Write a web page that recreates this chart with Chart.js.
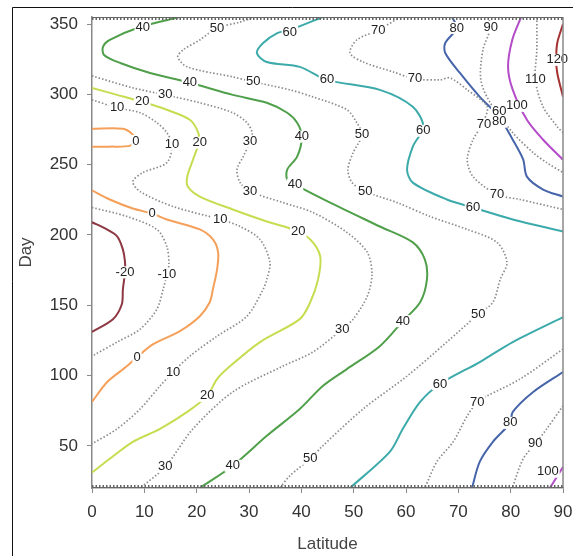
<!DOCTYPE html>
<html>
<head>
	<meta charset="utf-8">
	<title>Day / Latitude contours</title>
	<style>
		body { margin: 0; background: #fff; }
		canvas { display: block; }
	</style>
</head>
<body>
	<canvas id="myChart" width="573" height="556"></canvas>
	<script type="text/javascript" src="https://cdn.jsdelivr.net/npm/chart.js@4.4.0/dist/chart.umd.min.js"></script>
	<script type="text/javascript">
		// axis ticks
		let latTicks = [0, 10, 20, 30, 40, 50, 60, 70, 80, 90];
		let dayTicks = [50, 100, 150, 200, 250, 300, 350];

		// contour lines, each point is [latitude, day]
		let lineM20 = [[0, 209], [2.5, 204.6], [4.8, 199], [5.9, 189.7], [6.3, 181], [6.3, 173.4], [5.9, 161.3], [5.7, 150.7], [4.0, 140], [0, 131]];
		let lineM10 = [[0, 219.5], [6.7, 213.1], [12.4, 203.9], [14.3, 191.8], [14.7, 179], [14.3, 172], [13.6, 161.3], [12.4, 147.2], [9.2, 133], [4.8, 123.8], [0, 113.8]];
		let line0 = [[0, 231.6], [3.4, 225.2], [7.8, 218.8], [11.5, 215.2], [14.3, 211], [20.6, 203.9], [23.1, 196.8], [24.1, 187.6], [23.9, 175.5], [23.1, 161.3], [22.5, 152.1], [20.6, 142.2], [16.8, 131.6], [11.7, 122.3], [8.6, 113.1], [6.7, 106.7], [2.9, 95.4], [0, 81.2]];
		let line0Loop = [[0, 275.5], [5.9, 275.5], [7.6, 272], [8.2, 267.7], [7.3, 263.5], [3.4, 262.8], [0, 262.8]];
		let line10 = [[0, 296.1], [4.8, 290.4], [9.2, 286.9], [12.4, 279.8], [14.3, 272.7], [15.3, 264.2], [14.3, 251.4], [9.7, 244.3], [7.8, 237.9], [9.2, 230.8], [15.5, 220.2], [24.5, 211], [28.3, 206], [32.1, 196.8], [34, 180.5], [33.4, 168.4], [32.7, 161.3], [29.6, 142.2], [23.9, 128], [18.7, 113.8], [15.5, 102.5], [13, 92.6], [9.2, 76.2], [4.8, 62.1], [0, 51.4]];
		let line20 = [[0, 304.6], [4.8, 299.6], [9.6, 294.7], [14.3, 289], [18.7, 281.9], [20.3, 272.7], [20.4, 265.6], [19.3, 253.5], [18.2, 241.5], [18.3, 234.4], [20.6, 227.3], [26.9, 218.1], [33.4, 209.6], [38.4, 203.9], [41.7, 196.8], [43.6, 184.8], [43.2, 168.4], [41.7, 152.1], [39.7, 140.1], [32.1, 123.8], [26.4, 106.7], [23.9, 97.5], [22, 85.5], [18.2, 74.1], [13, 62.1], [7.8, 52.8], [3.4, 40.8], [0, 31]];
		let line30 = [[0, 313.1], [7.8, 304.6], [14, 299.6], [20.6, 294], [26.9, 286.9], [29.6, 279.8], [30.6, 272.7], [30.2, 266.3], [28.9, 255.7], [27.7, 246.5], [28.3, 237.2], [30.2, 230.9], [36.5, 223], [42.2, 216], [48.7, 201.8], [52.6, 187.6], [53.5, 172], [52.6, 156.4], [49.9, 140.1], [47.8, 133], [42.2, 116.7], [36.5, 106.7], [26.9, 88.3], [19.3, 62.1], [14, 35.1], [9.2, 20]];
		let line40 = [[16.8, 355], [9.2, 347.9], [3.4, 338.7], [2.1, 333.7], [2.3, 328], [5.4, 322.3], [11.1, 315.2], [18.7, 308.2], [26.9, 299.6], [33.4, 294], [37.3, 286.9], [39.2, 279.8], [40.1, 269.9], [39.2, 255.7], [37.3, 246.5], [37.3, 239.4], [38.8, 235.8], [45.5, 223], [55, 206], [61.3, 194.7], [63.6, 182.6], [64, 168.4], [62.7, 152.1], [59.4, 138.7], [55, 120.9], [48.7, 104.6], [44.1, 92.6], [39.7, 76.2], [33.4, 57.1], [26.9, 35.8], [20.6, 20]];
		let line50 = [[31.1, 355], [28.3, 351.4], [23.9, 347.2], [20.6, 338.7], [17.4, 331.6], [16.4, 326.6], [18.2, 319.5], [26.9, 312.4], [30.8, 308.9], [37.8, 303.2], [42.2, 298.2], [48.7, 289], [50.6, 279.8], [51.6, 271.3], [49.9, 258.5], [48.9, 246.5], [49.7, 237.2], [52.2, 230.9], [58.3, 223], [64.6, 213.1], [71.7, 203.9], [77.4, 194.7], [79.3, 180.5], [78, 168.4], [76.6, 152.1], [73.8, 143.6], [67.8, 123.8], [60.2, 99.6], [51.8, 76.2], [44.1, 50], [41.7, 40.8], [37.8, 28.7], [35.9, 20]];
		let line60Top = [[44.1, 355], [37.8, 345.7], [35.4, 343.6], [32.7, 336.5], [31.5, 329.4], [33.4, 323], [39.7, 319.5], [44.9, 310.3], [55, 303.2], [61.3, 291.1], [63.3, 277], [61.3, 262.8], [60.2, 246.5], [61.3, 237.2], [67.8, 225.2], [72.8, 219.5], [80.4, 211], [90, 202.5]];
		let line60Bottom = [[90, 141.5], [80.4, 123.8], [74.1, 109.6], [66.5, 94], [62.7, 81.2], [59.4, 62.1], [56.9, 45.7], [49.3, 20]];
		let line70Top = [[58.9, 355], [54.7, 345.7], [50.6, 338.7], [49.3, 329.4], [51.8, 323], [57.5, 316], [61.7, 311], [66.5, 310.3], [68.4, 311.7], [71.7, 303.2], [75.5, 291.1], [74.5, 278.4], [72.8, 267.7], [71.7, 253.5], [72.8, 241.5], [77.4, 228.7], [81.8, 225.2], [90, 218.1]];
		let line70Bottom = [[90, 118.8], [81.8, 97.5], [75.5, 85.5], [73.6, 81.2], [71.7, 71.3], [69, 52.8], [65.9, 38.7], [63.6, 20]];
		let line80Top = [[68.8, 355], [69.7, 347.2], [67.5, 336.5], [67.5, 329.4], [70.3, 315.2], [74.1, 298.2], [77.8, 284], [80.4, 267.7], [82.4, 253.5], [83.1, 241.5], [86.2, 232.3], [90, 227.3]];
		let line80Bottom = [[90, 102.5], [84.3, 88.3], [80.4, 74.1], [79.9, 66.3], [76.6, 52.8], [74.1, 38.7], [72.6, 20]];
		let line90Top = [[75.7, 355], [76.2, 347.9], [74.7, 331.6], [74.3, 310.3], [76.1, 294], [80.4, 272.7], [84.3, 258.5], [86.9, 251.4], [90, 244.3]];
		let line90Bottom = [[90, 78.4], [86.9, 62.1], [84.7, 51.4], [82.4, 40.8], [80.3, 20]];
		let line100Top = [[82, 355], [80.3, 338.7], [79.5, 319.5], [80.4, 303.2], [83.1, 281.9], [86.2, 267.7], [90, 253.5]];
		let line100Bottom = [[87.5, 20], [90, 35]];
		let line110 = [[85, 355], [85, 331.6], [84.7, 310.3], [86.2, 291.1], [88.9, 277], [90, 272.7]];
		let line120 = [[90, 350], [88.9, 336.5], [88.7, 324.5], [88.9, 315.2], [90, 298.2]];

		// contour labels: [latitude, day, text]
		let contourLabels = [
			[9.7, 347.9, "40"], [23.9, 347.2, "50"], [37.8, 344.3, "60"], [54.7, 345.7, "70"], [69.7, 347.2, "80"], [76.2, 347.9, "90"],
			[88.9, 324.5, "120"], [84.7, 310.3, "110"], [18.7, 308.2, "40"], [30.8, 308.9, "50"], [44.9, 310.3, "60"], [61.7, 311, "70"],
			[14, 299.6, "30"], [9.6, 294.7, "20"], [4.8, 290.4, "10"], [81.2, 291.8, "100"], [77.8, 287.6, "60"], [77.8, 280.5, "80"],
			[74.9, 278.4, "70"], [8.4, 266.8, "0"], [15.3, 264.2, "10"], [20.6, 265.6, "20"], [30.2, 266.3, "30"], [40.1, 269.9, "40"],
			[51.6, 271.3, "50"], [63.3, 274.1, "60"], [30.2, 230.9, "30"], [38.8, 235.8, "40"], [52.2, 230.9, "50"], [77.4, 228.7, "70"],
			[72.8, 219.5, "60"], [11.5, 215.2, "0"], [24.5, 211, "10"], [39.4, 202.5, "20"], [6.3, 173.4, "-20"], [14.3, 172, "-10"],
			[73.8, 143.6, "50"], [47.8, 133, "30"], [59.4, 138.7, "40"], [8.6, 113.1, "0"], [15.5, 102.5, "10"], [66.5, 94, "60"],
			[22, 85.5, "20"], [73.6, 81.2, "70"], [79.9, 66.3, "80"], [84.7, 51.4, "90"], [14, 35.1, "30"], [26.9, 35.8, "40"],
			[41.7, 40.8, "50"], [87.1, 31.6, "100"]
		];

		let dotted = "rgb(140, 140, 140)";
		let contours = [
			[lineM20, "rgb(140, 55, 65)", false],
			[lineM10, dotted, true],
			[line0, "rgb(245, 160, 90)", false],
			[line0Loop, "rgb(245, 160, 90)", false],
			[line10, dotted, true],
			[line20, "rgb(200, 220, 80)", false],
			[line30, dotted, true],
			[line40, "rgb(80, 160, 75)", false],
			[line50, dotted, true],
			[line60Top, "rgb(60, 170, 170)", false],
			[line60Bottom, "rgb(60, 170, 170)", false],
			[line70Top, dotted, true],
			[line70Bottom, dotted, true],
			[line80Top, "rgb(70, 100, 170)", false],
			[line80Bottom, "rgb(70, 100, 170)", false],
			[line90Top, dotted, true],
			[line90Bottom, dotted, true],
			[line100Top, "rgb(180, 75, 200)", false],
			[line100Bottom, "rgb(180, 75, 200)", false],
			[line110, dotted, true],
			[line120, "rgb(165, 50, 50)", false],
		];

		let datasets = contours.map(function (c) {
			return {
				data: c[0].map((p) => ({x: p[0], y: p[1]})),
				borderColor: c[1],
				borderWidth: c[2] ? 1.7 : 2,
				borderDash: c[2] ? [1.5, 2] : [],
				showLine: true,
				pointRadius: 0,
				tension: 0.3,
				fill: false,
			};
		});

		// labels on the lines, with a white gap behind them
		let labelPlugin = {
			id: "contourLabels",
			afterDatasetsDraw(chart) {
				let ctx = chart.ctx;
				let xs = chart.scales.x, ys = chart.scales.y;
				ctx.save();
				ctx.font = "13px 'Liberation Sans', Arial, sans-serif";
				ctx.textAlign = "center";
				ctx.textBaseline = "middle";
				contourLabels.forEach(function (l) {
					let px = xs.getPixelForValue(l[0]);
					let py = ys.getPixelForValue(l[1]);
					let w = ctx.measureText(l[2]).width;
					ctx.fillStyle = "#fff";
					ctx.fillRect(px - w / 2 - 1, py - 6, w + 2, 12);
					ctx.fillStyle = "#222";
					ctx.fillText(l[2], px, py);
				});
				ctx.restore();
			},
			afterDraw(chart) {
				let ctx = chart.ctx;
				let a = chart.chartArea;
				ctx.save();
				// right edge
				ctx.strokeStyle = "#888";
				ctx.lineWidth = 1.5;
				ctx.beginPath();
				ctx.moveTo(a.right, a.top);
				ctx.lineTo(a.right, a.bottom);
				ctx.stroke();
				// hatched top and bottom edges
				ctx.strokeStyle = "#666";
				ctx.lineWidth = 1;
				ctx.beginPath();
				ctx.moveTo(a.left, a.top + 0.5);
				ctx.lineTo(a.right, a.top + 0.5);
				ctx.moveTo(a.left, a.bottom - 0.5);
				ctx.lineTo(a.right, a.bottom - 0.5);
				ctx.stroke();
				ctx.setLineDash([1.5, 2]);
				ctx.lineWidth = 3;
				ctx.beginPath();
				ctx.moveTo(a.left, a.top + 1.5);
				ctx.lineTo(a.right, a.top + 1.5);
				ctx.moveTo(a.left, a.bottom - 1.5);
				ctx.lineTo(a.right, a.bottom - 1.5);
				ctx.stroke();
				// outer frame
				ctx.setLineDash([]);
				ctx.strokeStyle = "#111";
				ctx.lineWidth = 1;
				ctx.beginPath();
				ctx.moveTo(12.5, chart.height);
				ctx.lineTo(12.5, 7.5);
				ctx.lineTo(chart.width, 7.5);
				ctx.stroke();
				ctx.restore();
			}
		};

		let tickFont = {family: "'Liberation Sans', Arial, sans-serif", size: 17};

		let ctx = document.getElementById("myChart").getContext("2d");
		let myChart = new Chart(ctx, {
			type: "scatter",
			data: {datasets: datasets},
			plugins: [labelPlugin],
			options: {
				responsive: false,
				animation: false,
				layout: {padding: {left: 12, top: 17, right: 10, bottom: 0}},
				plugins: {legend: {display: false}, tooltip: {enabled: false}},
				scales: {
					x: {
						type: "linear",
						min: 0,
						max: 90,
						afterBuildTicks: (s) => { s.ticks = latTicks.map((v) => ({value: v})); },
						afterFit: (s) => { s.height = 68; s.paddingLeft = 0; s.paddingRight = 0; },
						grid: {drawOnChartArea: false, drawTicks: true, tickLength: 5, color: "#888"},
						border: {color: "#888", width: 1.5},
						ticks: {font: tickFont, color: "#333", padding: 9, maxRotation: 0},
						title: {display: true, text: "Latitude", font: tickFont, color: "#444", padding: {top: 4, bottom: 1}},
					},
					y: {
						type: "linear",
						min: 20,
						max: 355,
						afterBuildTicks: (s) => { s.ticks = dayTicks.map((v) => ({value: v})); },
						afterFit: (s) => { s.width = 80; s.paddingTop = 0; s.paddingBottom = 0; },
						grid: {drawOnChartArea: false, drawTicks: true, tickLength: 5, color: "#888"},
						border: {color: "#888", width: 1.5},
						ticks: {font: tickFont, color: "#333", padding: 9},
						title: {display: true, text: "Day", font: tickFont, color: "#444"},
					},
				},
			},
		});
	</script>
</body>
</html>
